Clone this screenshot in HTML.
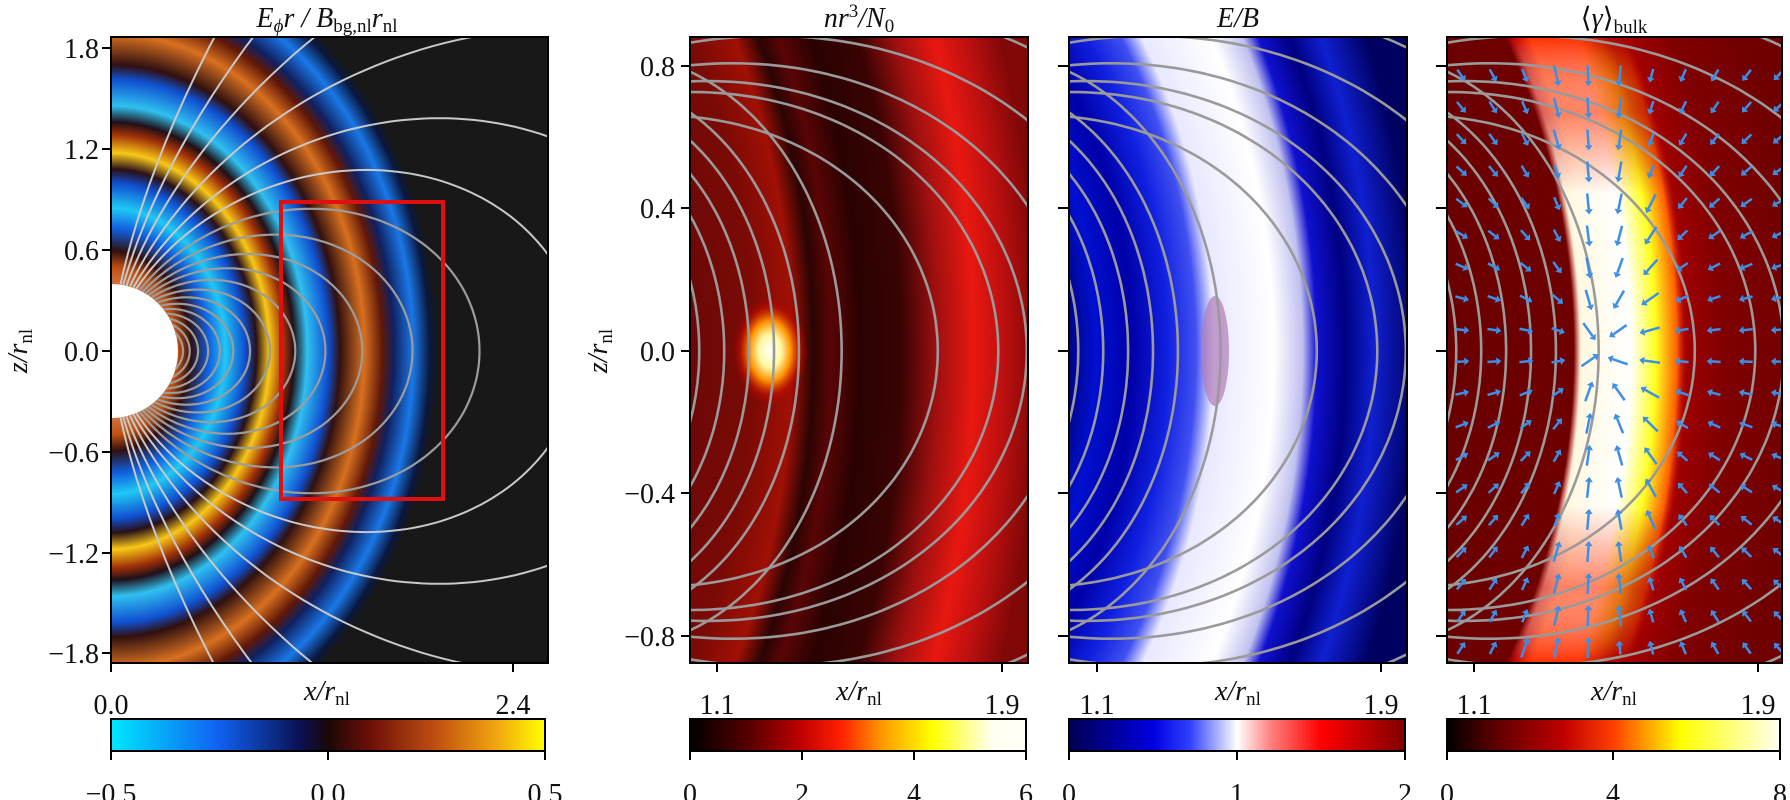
<!DOCTYPE html>
<html><head><meta charset="utf-8">
<style>
html,body{margin:0;padding:0;background:#fff;overflow:hidden;width:1790px;height:800px;}
svg{display:block;}
text{font-family:"Liberation Serif",serif;fill:#111;}
.t{font-size:28px;}
.it{font-style:italic;}
</style></head>
<body>
<svg id="s" width="1790" height="800" viewBox="0 0 1790 800" xmlns="http://www.w3.org/2000/svg">
<defs>
<clipPath id="c1"><rect x="111" y="37" width="437" height="626"/></clipPath>
<clipPath id="c2"><rect x="690" y="37" width="338" height="626"/></clipPath>
<clipPath id="c3"><rect x="1069" y="37" width="338" height="626"/></clipPath>
<clipPath id="c4"><rect x="1447" y="37" width="335" height="626"/></clipPath>
<clipPath id="cpage"><rect x="0" y="0" width="1790" height="800"/></clipPath>

<radialGradient id="g1" gradientUnits="userSpaceOnUse" cx="111" cy="351" r="327" gradientTransform="translate(111 351) scale(1 1.25) translate(-111 -351)">
<stop offset="0" stop-color="#ffffff"/>
<stop offset="0.205" stop-color="#c05010"/>
<stop offset="0.245" stop-color="#301010"/>
<stop offset="0.30" stop-color="#1060e0"/>
<stop offset="0.35" stop-color="#20c8f5"/>
<stop offset="0.41" stop-color="#1050d0"/>
<stop offset="0.445" stop-color="#2a1018"/>
<stop offset="0.485" stop-color="#f8c818"/>
<stop offset="0.53" stop-color="#a03008"/>
<stop offset="0.56" stop-color="#201018"/>
<stop offset="0.60" stop-color="#30c0f0"/>
<stop offset="0.665" stop-color="#1050d0"/>
<stop offset="0.70" stop-color="#301010"/>
<stop offset="0.775" stop-color="#d87020"/>
<stop offset="0.83" stop-color="#601808"/>
<stop offset="0.865" stop-color="#102060"/>
<stop offset="0.925" stop-color="#1a78e8"/>
<stop offset="0.975" stop-color="#0a1840"/>
<stop offset="1" stop-color="#181818"/>
</radialGradient>

<radialGradient id="g2" gradientUnits="userSpaceOnUse" cx="325.5" cy="351" r="712" gradientTransform="translate(325.5 351) scale(1 1.4) translate(-325.5 -351)">
<stop offset="0.5" stop-color="#6a0808"/>
<stop offset="0.6" stop-color="#7a0a05"/>
<stop offset="0.655" stop-color="#a01005"/>
<stop offset="0.685" stop-color="#2a0404"/>
<stop offset="0.71" stop-color="#5a0505"/>
<stop offset="0.75" stop-color="#2a0202"/>
<stop offset="0.81" stop-color="#3a0303"/>
<stop offset="0.86" stop-color="#a01010"/>
<stop offset="0.91" stop-color="#e81810"/>
<stop offset="0.95" stop-color="#c01010"/>
<stop offset="1" stop-color="#800808"/>
</radialGradient>
<radialGradient id="blob" cx="0.5" cy="0.5" r="0.5">
<stop offset="0" stop-color="#ffffff"/>
<stop offset="0.3" stop-color="#fff8a0"/>
<stop offset="0.55" stop-color="#ff9000"/>
<stop offset="0.8" stop-color="#c01000" stop-opacity="0.6"/>
<stop offset="1" stop-color="#a00000" stop-opacity="0"/>
</radialGradient>

<radialGradient id="g3" gradientUnits="userSpaceOnUse" cx="704.5" cy="351" r="712" gradientTransform="translate(704.5 351) scale(1 1.2) translate(-704.5 -351)">
<stop offset="0.5" stop-color="#000070"/>
<stop offset="0.55" stop-color="#0010d0"/>
<stop offset="0.60" stop-color="#0000a8"/>
<stop offset="0.65" stop-color="#1020e0"/>
<stop offset="0.69" stop-color="#4050f0"/>
<stop offset="0.715" stop-color="#e8e8ff"/>
<stop offset="0.80" stop-color="#ffffff"/>
<stop offset="0.84" stop-color="#c0c0f0"/>
<stop offset="0.86" stop-color="#1010d0"/>
<stop offset="0.90" stop-color="#000080"/>
<stop offset="0.94" stop-color="#1020d0"/>
<stop offset="1" stop-color="#000060"/>
</radialGradient>

<radialGradient id="g4r" gradientUnits="userSpaceOnUse" cx="1082.5" cy="351" r="712" gradientTransform="translate(1082.5 351) scale(1 1.25) translate(-1082.5 -351)">
<stop offset="0.5" stop-color="#6a0000"/>
<stop offset="0.69" stop-color="#6e0000"/>
<stop offset="0.70" stop-color="#c00000"/>
<stop offset="0.72" stop-color="#ff3000"/>
<stop offset="0.78" stop-color="#ff3000"/>
<stop offset="0.82" stop-color="#b00000"/>
<stop offset="0.90" stop-color="#800000"/>
<stop offset="1" stop-color="#700000"/>
</radialGradient>
<radialGradient id="g4w" gradientUnits="userSpaceOnUse" cx="1082.5" cy="351" r="712" gradientTransform="translate(1082.5 351) scale(1 1.25) translate(-1082.5 -351)">
<stop offset="0.69" stop-color="#fff8e0" stop-opacity="0"/>
<stop offset="0.70" stop-color="#fff8e0"/>
<stop offset="0.77" stop-color="#ffffff"/>
<stop offset="0.805" stop-color="#ffff20"/>
<stop offset="0.835" stop-color="#ff6000"/>
<stop offset="0.85" stop-color="#c00000" stop-opacity="0"/>
</radialGradient>
<linearGradient id="vm" x1="0" y1="0" x2="0" y2="1">
<stop offset="0" stop-color="#000"/>
<stop offset="0.12" stop-color="#fff" stop-opacity="0.4"/>
<stop offset="0.25" stop-color="#fff"/>
<stop offset="0.75" stop-color="#fff"/>
<stop offset="0.88" stop-color="#fff" stop-opacity="0.4"/>
<stop offset="1" stop-color="#000"/>
</linearGradient>
<mask id="m4" maskUnits="userSpaceOnUse" x="1447" y="37" width="335" height="626">
<rect x="1447" y="37" width="335" height="626" fill="url(#vm)"/>
</mask>

<linearGradient id="cb1"><stop offset="0" stop-color="#00e8ff"/><stop offset="0.25" stop-color="#1060f0"/><stop offset="0.44" stop-color="#0a1050"/><stop offset="0.5" stop-color="#1a0808"/><stop offset="0.6" stop-color="#701008"/><stop offset="0.75" stop-color="#c05010"/><stop offset="0.88" stop-color="#f0a010"/><stop offset="1" stop-color="#ffff00"/></linearGradient>
<linearGradient id="cb2"><stop offset="0" stop-color="#000000"/><stop offset="0.18" stop-color="#5a0000"/><stop offset="0.33" stop-color="#c00000"/><stop offset="0.45" stop-color="#ff2000"/><stop offset="0.58" stop-color="#ffa000"/><stop offset="0.72" stop-color="#ffff00"/><stop offset="0.9" stop-color="#fffff0"/><stop offset="1" stop-color="#fffff8"/></linearGradient>
<linearGradient id="cb3"><stop offset="0" stop-color="#000050"/><stop offset="0.25" stop-color="#0000e0"/><stop offset="0.36" stop-color="#3040ff"/><stop offset="0.5" stop-color="#ffffff"/><stop offset="0.6" stop-color="#ff8080"/><stop offset="0.75" stop-color="#ff0000"/><stop offset="1" stop-color="#800000"/></linearGradient>
<linearGradient id="cb4"><stop offset="0" stop-color="#000000"/><stop offset="0.15" stop-color="#600000"/><stop offset="0.35" stop-color="#c00000"/><stop offset="0.5" stop-color="#ff4000"/><stop offset="0.7" stop-color="#ffff00"/><stop offset="1" stop-color="#fffff0"/></linearGradient>
</defs>

<g clip-path="url(#cpage)">
<rect x="111" y="37" width="437" height="626" fill="url(#g1)"/>
<g clip-path="url(#c1)"><ellipse cx="111" cy="351" rx="67" ry="67" fill="#fff"/></g>
<rect x="690" y="37" width="338" height="626" fill="url(#g2)"/>
<ellipse cx="770" cy="351" rx="38" ry="55" fill="url(#blob)"/>
<rect x="1069" y="37" width="338" height="626" fill="url(#g3)"/>
<ellipse cx="1215" cy="351" rx="14" ry="55" fill="#b07ab8" opacity="0.7"/>
<rect x="1447" y="37" width="335" height="626" fill="url(#g4r)"/>
<rect x="1447" y="37" width="335" height="626" fill="url(#g4w)" mask="url(#m4)"/>

<g id="lines"></g>
<rect x="281" y="202" width="162" height="297" fill="none" stroke="#e01010" stroke-width="4"/>
<g id="arrows"></g>

<g fill="none" stroke="#000" stroke-width="2">
<rect x="111" y="37" width="437" height="626"/>
<rect x="690" y="37" width="338" height="626"/>
<rect x="1069" y="37" width="338" height="626"/>
<rect x="1447" y="37" width="335" height="626"/>
<rect x="111" y="719" width="434" height="32" fill="url(#cb1)"/>
<rect x="690" y="719" width="336" height="32" fill="url(#cb2)"/>
<rect x="1069" y="719" width="336" height="32" fill="url(#cb3)"/>
<rect x="1447" y="719" width="333" height="32" fill="url(#cb4)"/>
</g>
<g id="ticks" stroke="#000" stroke-width="2"></g>

<text class="t it" x="327" y="27" text-anchor="middle">E<tspan font-size="19" dy="5">ϕ</tspan><tspan dy="-5">r / B</tspan><tspan font-size="19" dy="5" font-style="normal">bg,nl</tspan><tspan dy="-5">r</tspan><tspan font-size="19" dy="5" font-style="normal">nl</tspan></text>
<text class="t it" x="859" y="27" text-anchor="middle">nr<tspan font-size="19" dy="-10" font-style="normal">3</tspan><tspan dy="10">/N</tspan><tspan font-size="19" dy="5" font-style="normal">0</tspan></text>
<text class="t it" x="1238" y="27" text-anchor="middle">E/B</text>
<text class="t" x="1614" y="27" text-anchor="middle">⟨<tspan class="it">γ</tspan>⟩<tspan font-size="19" dy="6">bulk</tspan></text>

<g class="t" text-anchor="end">
<text x="99" y="58">1.8</text><text x="99" y="159">1.2</text><text x="99" y="260">0.6</text><text x="99" y="361">0.0</text><text x="99" y="462">−0.6</text><text x="99" y="563">−1.2</text><text x="99" y="663">−1.8</text>
<text x="675" y="76">0.8</text><text x="675" y="218">0.4</text><text x="675" y="361">0.0</text><text x="675" y="503">−0.4</text><text x="675" y="646">−0.8</text>
</g>
<text class="t it" transform="translate(27 351) rotate(-90)" text-anchor="middle">z/r<tspan font-size="19" dy="5" font-style="normal">nl</tspan></text>
<text class="t it" transform="translate(607 351) rotate(-90)" text-anchor="middle">z/r<tspan font-size="19" dy="5" font-style="normal">nl</tspan></text>

<g class="t" text-anchor="middle">
<text x="111" y="714">0.0</text><text x="513" y="714">2.4</text>
<text x="717" y="714">1.1</text><text x="1002" y="714">1.9</text>
<text x="1097" y="714">1.1</text><text x="1381" y="714">1.9</text>
<text x="1474" y="714">1.1</text><text x="1758" y="714">1.9</text>
</g>
<g class="t it" text-anchor="middle">
<text x="327" y="700">x/r<tspan font-size="19" dy="5" font-style="normal">nl</tspan></text>
<text x="859" y="700">x/r<tspan font-size="19" dy="5" font-style="normal">nl</tspan></text>
<text x="1238" y="700">x/r<tspan font-size="19" dy="5" font-style="normal">nl</tspan></text>
<text x="1614" y="700">x/r<tspan font-size="19" dy="5" font-style="normal">nl</tspan></text>
</g>
<g class="t" text-anchor="middle">
<text x="111" y="803">−0.5</text><text x="328" y="803">0.0</text><text x="545" y="803">0.5</text>
<text x="690" y="803">0</text><text x="802" y="803">2</text><text x="914" y="803">4</text><text x="1026" y="803">6</text>
<text x="1069" y="803">0</text><text x="1237" y="803">1</text><text x="1405" y="803">2</text>
<text x="1447" y="803">0</text><text x="1613" y="803">4</text><text x="1780" y="803">8</text>
</g>
</g>
</svg>
<script>
(function(){
var NS="http://www.w3.org/2000/svg";
function el(p,tag,a){var e=document.createElementNS(NS,tag);for(var k in a)e.setAttribute(k,a[k]);p.appendChild(e);return e;}
var L=document.getElementById('lines');
function dip(g,Lv,rmin,fx,fy,col,w,st){
  st=st||1;
  var th0=Math.asin(Math.min(1,Math.sqrt(rmin/Lv)));
  var d="",n=200;
  for(var i=0;i<=n;i++){var th=th0+(Math.PI-2*th0)*i/n;var s=Math.sin(th);
    var X=Lv*s*s*s,Z=st*Lv*s*s*Math.cos(th);
    d+=(i?"L":"M")+fx(X).toFixed(1)+" "+fy(Z).toFixed(1);}
  el(g,'path',{d:d,fill:'none',stroke:col,'stroke-width':w});
}
var g1=el(L,'g',{'clip-path':'url(#c1)'});
var f1x=function(X){return 111+X*167.5},f1y=function(Z){return 351-Z*168};
[0.43,0.47,0.52,0.58,0.65,0.73,0.83,0.95,1.1,1.28,1.5,1.8,2.2].forEach(function(v){dip(g1,v,0.4,f1x,f1y,'#9c9c9c',2.2)});
[2.8,3.6,5,7.5,12,20].forEach(function(v){dip(g1,v,0.4,f1x,f1y,'#c8c8c8',2)});
[[690,'c2'],[1069,'c3'],[1447,'c4']].forEach(function(p){
  var x0=p[0],g=el(L,'g',{'clip-path':'url(#'+p[1]+')'});
  var fx=function(X){return x0+(X-1.024)*356},fy=function(Z){return 351-Z*356};
  [1.05,1.12,1.19,1.26,1.33,1.45].forEach(function(v){dip(g,v,0.9,fx,fy,'#9a9a9a',2.6,1.5)});
  [1.72,1.89,1.97,2.1,2.3,2.55,2.9,3.4,4.2,5.2].forEach(function(v){dip(g,v,0.9,fx,fy,'#9a9a9a',2.6,1)});
});
var A=document.getElementById('arrows');
var ga=el(A,'g',{'clip-path':'url(#c4)',fill:'#3d8fe6',stroke:'#3d8fe6'});
for(var X=1.06;X<1.98;X+=0.09){for(var Z=-0.84;Z<=0.85;Z+=0.09){
  var px=1447+(X-1.024)*356,py=351-Z*356;
  var tx=1.45,tz=Z*0.3;var dx=tx-X,dz=tz-Z;
  var r=Math.sqrt(X*X+(Z/1.25)*(Z/1.25));
  var len=(r>1.4&&r<1.65)?16:9;
  var m=Math.sqrt(dx*dx+dz*dz)||1;var ux=dx/m,uy=-dz/m;
  var x1=px-ux*len/2,y1=py-uy*len/2,x2=px+ux*len/2,y2=py+uy*len/2;
  el(ga,'line',{x1:x1,y1:y1,x2:x2,y2:y2,'stroke-width':2.5});
  var hx=x2+ux*5,hy=y2+uy*5;
  el(ga,'polygon',{points:hx+","+hy+" "+(x2-uy*4)+","+(y2+ux*4)+" "+(x2+uy*4)+","+(y2-ux*4),stroke:'none'});
}}
var T=document.getElementById('ticks');
function tk(x1,y1,x2,y2){el(T,'line',{x1:x1,y1:y1,x2:x2,y2:y2});}
[48,149,250,351,452,553,653].forEach(function(y){tk(102,y,111,y)});
[66,208,351,493,636].forEach(function(y){tk(681,y,690,y);tk(1058,y,1069,y);tk(1436,y,1447,y)});
[[111,513],[717,1002],[1097,1381],[1474,1758]].forEach(function(a){a.forEach(function(x){tk(x,663,x,672)})});
[111,328,545,690,802,914,1026,1069,1237,1405,1447,1613,1780].forEach(function(x){tk(x,751,x,760)});
})();
</script>
</body></html>
